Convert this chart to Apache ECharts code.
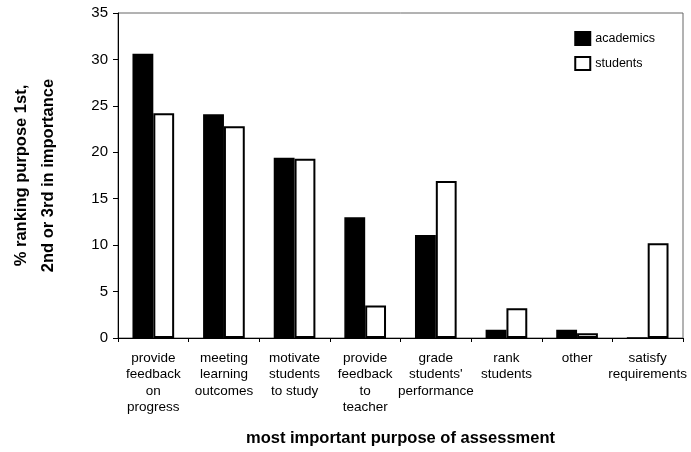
<!DOCTYPE html>
<html><head><meta charset="utf-8">
<script src="https://cdn.jsdelivr.net/npm/echarts@6/dist/echarts.min.js"></script>
<style>html,body{margin:0;padding:0;background:#fff}#c{width:691px;height:452px}</style>
</head><body><div id="c"></div>
<script>
const categories = ["provide\nfeedback\non\nprogress","meeting\nlearning\noutcomes","motivate\nstudents\nto study","provide\nfeedback\nto\nteacher","grade\nstudents'\nperformance","rank\nstudents","other","satisfy\nrequirements"];
const academics = [30.6, 24.1, 19.4, 13.0, 11.1, 0.9, 0.9, 0];
const students = [24.2, 22.8, 19.3, 3.5, 16.9, 3.2, 0.5, 10.2];
const yTicks = [0, 5, 10, 15, 20, 25, 30, 35];

const chart = echarts.init(document.getElementById('c'), null, {renderer:'canvas'});
const font = 'Liberation Sans, Arial, sans-serif';
chart.setOption({
  animation:false,
  backgroundColor:'#fff',
  grid:{left:100, right:8, top:13, bottom:112, show:true, borderColor:'#666', borderWidth:1, backgroundColor:'transparent'},
  legend:{
    right:31, top:26, orient:'vertical', itemWidth:15, itemHeight:13, itemGap:10,
    textStyle:{fontFamily:font, fontSize:12.5, color:'#000'},
    data:[{name:'academics', icon:'rect'},{name:'students', icon:'rect'}]
  },
  xAxis:{
    type:'category', data:categories,
    axisLine:{lineStyle:{color:'#000'}},
    axisTick:{show:true, length:4, lineStyle:{color:'#000'}},
    axisLabel:{interval:0, fontFamily:font, fontSize:13.5, color:'#000', lineHeight:16.5, margin:12, align:'center'},
    name:'most important purpose of assessment', nameLocation:'middle', nameGap:92,
    nameTextStyle:{fontFamily:font, fontSize:16.5, fontWeight:'bold', color:'#000'}
  },
  yAxis:{
    type:'value', min:0, max:35, interval:5,
    axisLine:{show:true, lineStyle:{color:'#000'}},
    axisTick:{show:true, length:5, inside:false, lineStyle:{color:'#000'}},
    splitLine:{show:false},
    axisLabel:{fontFamily:font, fontSize:15, color:'#000', margin:10,
      formatter:v=>yTicks.includes(v)?String(v):''},
    name:'% ranking purpose 1st,\n2nd or 3rd in importance', nameLocation:'middle', nameGap:56,
    nameTextStyle:{fontFamily:font, fontSize:16.5, fontWeight:'bold', color:'#000', lineHeight:27}
  },
  series:[
    {name:'academics', type:'bar', data:academics, barGap:'0%', barCategoryGap:'41%',
     itemStyle:{color:'#000', borderColor:'#000', borderWidth:1.5}},
    {name:'students', type:'bar', data:students,
     itemStyle:{color:'#fff', borderColor:'#000', borderWidth:2}}
  ]
});
</script></body></html>
